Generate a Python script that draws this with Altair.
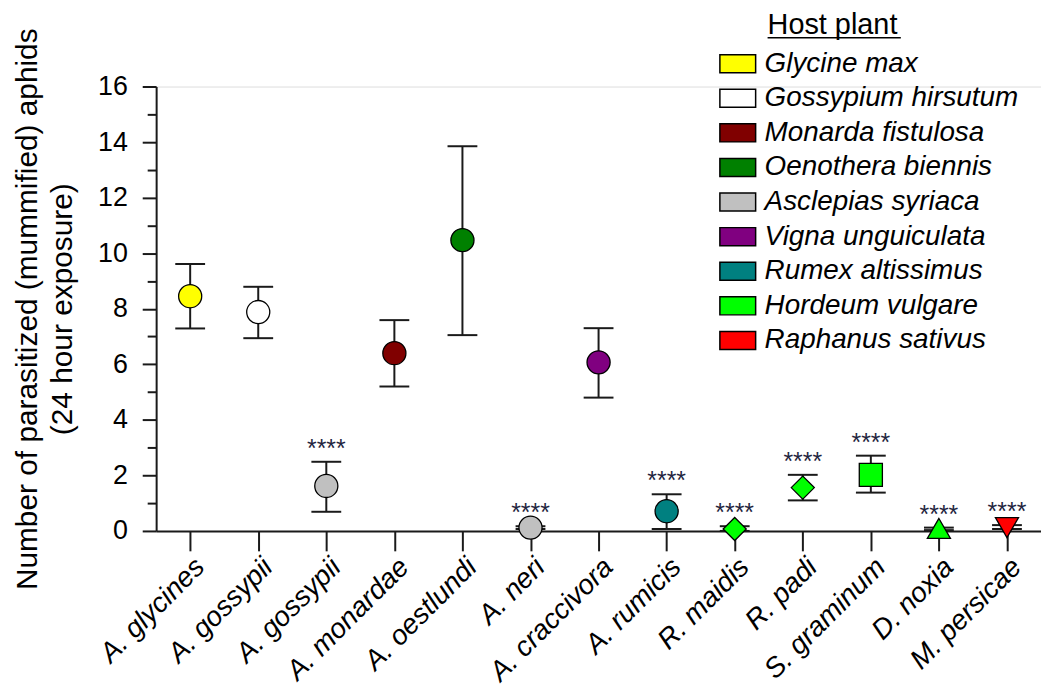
import altair as alt
import pandas as pd

species = ["A. glycines", "A. gossypii", "A. gossypii", "A. monardae", "A. oestlundi",
           "A. neri", "A. craccivora", "A. rumicis", "R. maidis", "R. padi",
           "S. graminum", "D. noxia", "M. persicae"]
hosts = ["Glycine max", "Gossypium hirsutum", "Asclepias syriaca", "Monarda fistulosa",
         "Oenothera biennis", "Asclepias syriaca", "Vigna unguiculata", "Rumex altissimus",
         "Hordeum vulgare", "Hordeum vulgare", "Hordeum vulgare", "Hordeum vulgare",
         "Raphanus sativus"]
mean = [8.45, 7.88, 1.62, 6.40, 10.47, 0.12, 6.07, 0.71, 0.07, 1.56, 2.02, 0.09, 0.12]
lower = [7.29, 6.94, 0.69, 5.20, 7.05, 0.07, 4.80, 0.07, 0.00, 1.10, 1.38, 0.03, 0.07]
upper = [9.61, 8.79, 2.49, 7.59, 13.85, 0.17, 7.30, 1.32, 0.17, 2.02, 2.71, 0.12, 0.21]
sig = ["", "", "****", "", "", "****", "", "****", "****", "****", "****", "****", "****"]

host_order = ["Glycine max", "Gossypium hirsutum", "Monarda fistulosa", "Oenothera biennis",
              "Asclepias syriaca", "Vigna unguiculata", "Rumex altissimus",
              "Hordeum vulgare", "Raphanus sativus"]
host_colors = ["#FFFF00", "#FFFFFF", "#800000", "#008000", "#C0C0C0", "#800080",
               "#008080", "#00FF00", "#FF0000"]

keys = [f"{s}|{i}" for i, s in enumerate(species)]
marker_shapes = ["circle"] * 8 + ["diamond", "diamond", "square", "triangle-up", "triangle-down"]
marker_sizes = [540] * 8 + [640, 640, 400, 500, 500]

df = pd.DataFrame({"key": keys, "host": hosts, "mean": mean, "lower": lower,
                   "upper": upper, "sig": sig})

FONT = "Liberation Sans"
INK = "#1a1a1a"

x_enc = alt.X("key:N", sort=keys,
              scale=alt.Scale(domain=keys, type="point", padding=0.5),
              axis=alt.Axis(title=None, labelAngle=-45, labelFontStyle="italic",
                            labelFontSize=28, labelFont=FONT, labelColor="black",
                            labelExpr="split(datum.label, '|')[0]",
                            labelPadding=2, labelLimit=400,
                            tickSize=20, tickWidth=2, tickColor=INK,
                            domainWidth=2, domainColor=INK, grid=False))

yscale = alt.Scale(domain=[0, 16], nice=False, zero=True)
y_axis = alt.Axis(values=list(range(0, 17, 2)), tickSize=14, tickWidth=2, tickColor=INK,
                  domainWidth=2, domainColor=INK, grid=False,
                  labelFontSize=27, labelFont=FONT, labelColor="black", labelPadding=15,
                  title=["Number of parasitized (mummified) aphids", "(24 hour exposure)"],
                  titleFont=FONT, titleFontSize=30, titleFontWeight="normal",
                  titleColor="black", titlePadding=20, titleLineHeight=35)

base = alt.Chart(df).encode(x=x_enc)

rules = base.mark_rule(color=INK, strokeWidth=2).encode(
    y=alt.Y("lower:Q", scale=yscale, axis=y_axis), y2="upper:Q")
caps_hi = base.mark_tick(color=INK, thickness=2, size=30, opacity=1).encode(
    y=alt.Y("upper:Q", scale=yscale))
caps_lo = base.mark_tick(color=INK, thickness=2, size=30, opacity=1).encode(
    y=alt.Y("lower:Q", scale=yscale))

points = base.mark_point(filled=True, opacity=1, stroke="black", strokeWidth=1.3).encode(
    y=alt.Y("mean:Q", scale=yscale),
    fill=alt.Fill("host:N", scale=alt.Scale(domain=host_order, range=host_colors),
                  legend=alt.Legend(orient="none", legendX=567, legendY=-41, title=None,
                                    symbolType="M-1.05,-0.53H1.05V0.53H-1.05Z",
                                    symbolSize=1173, symbolStrokeColor="black",
                                    symbolStrokeWidth=1.5, symbolOpacity=1,
                                    labelFontSize=28, labelFontStyle="italic",
                                    labelFont=FONT, labelColor="black", labelOffset=9,
                                    labelLimit=500, rowPadding=2.8, padding=0)),
    shape=alt.Shape("key:N", scale=alt.Scale(domain=keys, range=marker_shapes), legend=None),
    size=alt.Size("key:N", scale=alt.Scale(domain=keys, range=marker_sizes), legend=None),
)

stars = base.mark_text(font=FONT, fontSize=25, baseline="alphabetic", dy=-5,
                       color="#1f2540").encode(
    y=alt.Y("upper:Q", scale=yscale), text="sig:N")

main = alt.layer(rules, caps_hi, caps_lo, points, stars)

minor = alt.Chart(df).mark_point(opacity=0).encode(
    x=x_enc,
    y=alt.Y("mean:Q", scale=alt.Scale(domain=[0, 16], nice=False, zero=True),
            axis=alt.Axis(orient="left", values=list(range(1, 16, 2)), tickSize=9,
                          tickWidth=2, tickColor=INK, labels=False, domain=False,
                          grid=False, title=None)))

title_df = pd.DataFrame({"t": ["Host plant"]})
legend_title = alt.Chart(title_df).mark_text(
    font=FONT, fontSize=29, align="left", baseline="alphabetic", color="black").encode(
    x=alt.value(615), y=alt.value(-53), text="t:N")
underline = alt.Chart(title_df).mark_rule(color="black", strokeWidth=1.5).encode(
    x=alt.value(615), x2=alt.value(749), y=alt.value(-49))

chart = alt.layer(main, minor, legend_title, underline).resolve_scale(
    y="independent"
).properties(
    width=890, height=447,
    autosize=alt.AutoSizeParams(type="none"),
    padding={"left": 149, "top": 77, "right": 0, "bottom": 158}
).configure_view(stroke=None).configure(font=FONT)

chart.save("out.html", embed_options={"renderer": "svg", "actions": False})
